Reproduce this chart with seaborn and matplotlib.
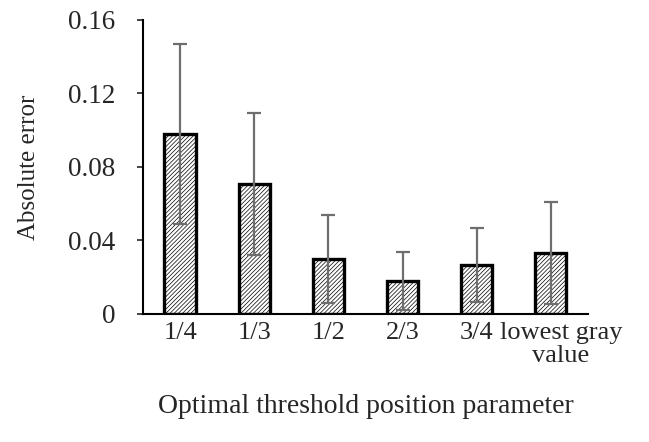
import matplotlib
matplotlib.use("Agg")
import matplotlib.pyplot as plt
import matplotlib.transforms as mtransforms
import seaborn as sns
import pandas as pd

categories = ["1/4", "1/3", "1/2", "2/3", "3/4", "lowest gray\nvalue"]
values = [0.098, 0.0707, 0.0299, 0.018, 0.0267, 0.0334]
errors = [0.049, 0.0385, 0.024, 0.016, 0.020, 0.0277]
yticks = [0, 0.04, 0.08, 0.12, 0.16]
ytick_labels = ["0", "0.04", "0.08", "0.12", "0.16"]

sns.set_style("white")
plt.rcParams["font.family"] = ["Liberation Serif", "DejaVu Serif"]
plt.rcParams["hatch.linewidth"] = 0.5

df = pd.DataFrame({"cat": categories, "val": values})

fig = plt.figure(figsize=(6.49, 4.42), dpi=100)
ax = fig.add_axes([0.2203, 0.2896, 0.6857, 0.6652])

sns.barplot(data=df, x="cat", y="val", ax=ax, color="white", edgecolor="black",
            linewidth=2.4, width=0.42, hatch="////////", errorbar=None)
ax.errorbar(range(len(categories)), values, yerr=errors, fmt="none",
            ecolor="#6e6e6e", elinewidth=1.6, capsize=4.8, capthick=1.6, zorder=5)

ax.set_xlim(-0.5, len(categories) - 0.5)
ax.set_ylim(0, 0.16)
ax.set_yticks(yticks)
ax.set_yticklabels(ytick_labels)
ax.tick_params(axis="y", direction="out", length=4, width=1.2, labelsize=19.5, pad=16, left=True)
ax.tick_params(axis="x", length=0, labelsize=19, pad=6)
xl = ax.get_xticklabels()
for lbl in xl:
    lbl.set_linespacing(1.05)
xl[-1].set_transform(xl[-1].get_transform() +
                     mtransforms.ScaledTranslation(10 / 100, 0, fig.dpi_scale_trans))
for s in ["top", "right"]:
    ax.spines[s].set_visible(False)
for s in ["left", "bottom"]:
    ax.spines[s].set_color("black")
    ax.spines[s].set_linewidth(1.5)

ax.set_xlabel("Optimal threshold position parameter", fontsize=20, labelpad=19)
ax.set_ylabel("Absolute error", fontsize=18, labelpad=20)

fig.savefig("out.png", dpi=100)
